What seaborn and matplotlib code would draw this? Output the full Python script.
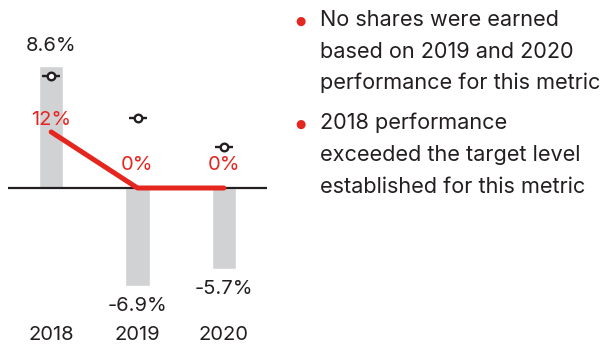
import matplotlib
matplotlib.use("Agg")
import matplotlib.pyplot as plt
import seaborn as sns

# Data
years = ["2018", "2019", "2020"]
actual = [8.6, -6.9, -5.7]          # metric result (%)
target = [7.9, 4.9, 2.9]            # target level (%)
payout = [12, 0, 0]                 # shares earned (%)
bullets = [
    ["No shares were earned", "based on 2019 and 2020", "performance for this metric"],
    ["2018 performance", "exceeded the target level", "established for this metric"],
]

GRAY = "#d1d2d4"
RED = "#e5261f"
INK = "#231f20"
FONT = "Inter"

sns.set_theme(style="white")
plt.rcParams["font.family"] = [FONT, "DejaVu Sans"]

W, H = 615, 346
fig = plt.figure(figsize=(W / 100, H / 100), dpi=100)
fig.patch.set_facecolor("white")

# Chart axes spans full height; zero line at pixel row 188
ax_left, ax_right = 8, 267
ax = fig.add_axes([ax_left / W, 0, (ax_right - ax_left) / W, 1])
px_per_pct = 14.2
zero_px = 188
ylim = (-(H - zero_px) / px_per_pct, zero_px / px_per_pct)

sns.barplot(x=years, y=actual, color=GRAY, width=0.28, ax=ax, saturation=1)
ax.set_xlim(-0.5, 2.5)
ax.set_ylim(*ylim)
ax.axhline(0, color=INK, lw=1.6, zorder=3)
ax.axis("off")

# Target markers: open circle with a short horizontal stroke
xs = list(range(len(years)))
ax.scatter(xs, target, marker="_", s=150, color=INK, linewidths=1.7, zorder=4)
ax.scatter(xs, target, marker="o", s=30, facecolor="white", edgecolor=INK,
           linewidths=1.7, zorder=5)

LBL = 14.5

# Value labels for the bars
for x, v in zip(xs, actual):
    off = 14.4 if v >= 0 else -14.4
    ax.annotate(f"{v:.1f}%", (x, v), xytext=(0, off), textcoords="offset points",
                ha="center", va="center", fontsize=LBL, color=INK)

# Year labels
for x, y in zip(xs, years):
    ax.annotate(y, (x, 0), xytext=(0, -(335 - zero_px) * 0.72), textcoords="offset points",
                ha="center", va="center", fontsize=LBL, color=INK)

# Payout line on its own scale
ax2 = ax.twinx()
ax2.set_ylim(ylim[0] * 3.04, ylim[1] * 3.04)
ax2.axis("off")
sns.lineplot(x=xs, y=payout, color=RED, lw=3.6, ax=ax2, zorder=6,
             solid_capstyle="round", solid_joinstyle="round")
for x, p in zip(xs, payout):
    off = 12 * 0.72 if p > 0 else 23 * 0.72
    ax2.annotate(f"{p}%", (x, p), xytext=(0, off), textcoords="offset points",
                 ha="center", va="center", fontsize=LBL, color=RED)

# Bullet notes
line_y = [[20, 51.5, 83], [123, 155, 187]]
for lines, ys in zip(bullets, line_y):
    fig.text(300 / W, 1 - (ys[0] + 1) / H, "\u25cf", color=RED, fontsize=8.5,
             ha="center", va="center", family="DejaVu Sans")
    for t, y in zip(lines, ys):
        fig.text(320 / W, 1 - y / H, t, color=INK, fontsize=15.6,
                 ha="left", va="center")

fig.savefig("out.png", dpi=100, facecolor="white")
